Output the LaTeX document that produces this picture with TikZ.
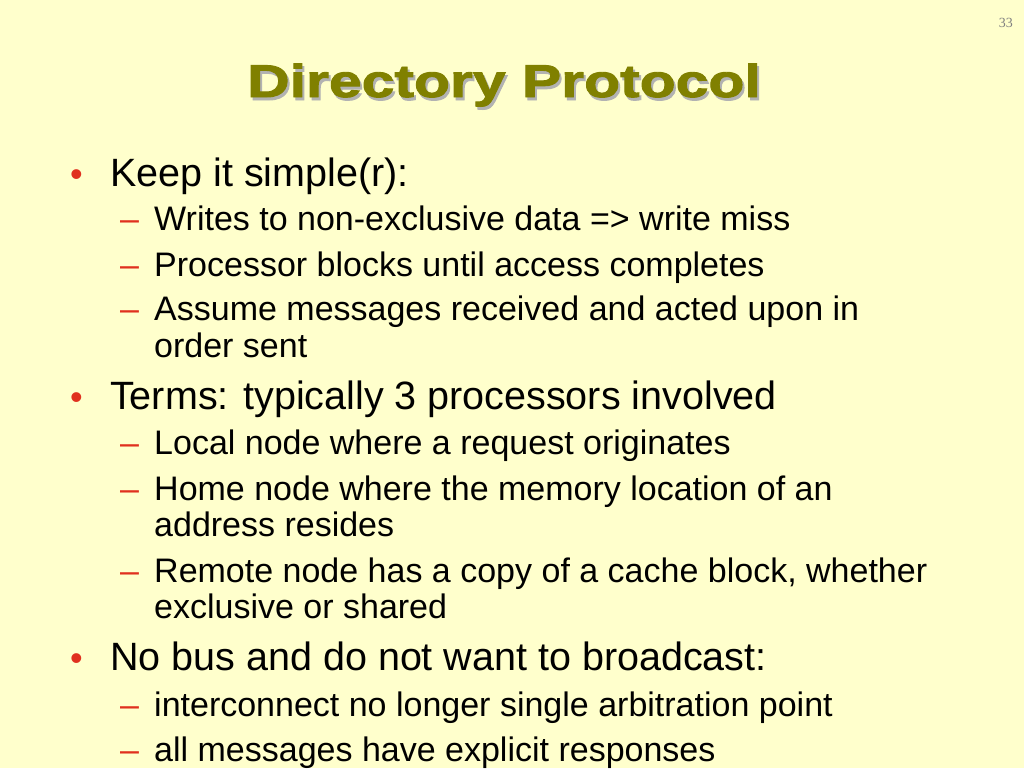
\documentclass[tikz,border=0pt]{standalone}
\usepackage{fontspec}
\setmainfont{Liberation Sans}
\newfontfamily\numfont{Liberation Serif}
\newfontfamily\titlefont[FakeStretch=1.28,FakeBold=2]{Liberation Sans Bold}
\definecolor{bg}{HTML}{FFFFCC}
\definecolor{olive}{HTML}{808000}
\definecolor{bulletred}{HTML}{E0301E}
\begin{document}
\begin{tikzpicture}[x=1pt,y=-1pt,
  lone/.style={anchor=base west,inner sep=0pt,font=\fontsize{39.5}{44}\selectfont},
  ltwo/.style={anchor=base west,inner sep=0pt,font=\fontsize{34}{38}\selectfont},
  bul/.style={anchor=base west,inner sep=0pt,text=bulletred,font=\fontsize{36}{40}\selectfont},
  dsh/.style={anchor=base west,inner sep=0pt,text=bulletred,font=\fontsize{34}{38}\selectfont}]
\fill[bg] (0,0) rectangle (1024,768);
\useasboundingbox (0,0) rectangle (1024,768);
\node[anchor=base east,inner sep=0pt,text=gray,font=\numfont\fontsize{14}{16}\selectfont] (pg) at (1013,28) {33};
\node[anchor=base,inner sep=0pt,text=gray!60,font=\titlefont\fontsize{46}{50}\selectfont] (tsh) at (506,100) {Directory Protocol};
\node[anchor=base,inner sep=0pt,text=olive,font=\titlefont\fontsize{46}{50}\selectfont] (title) at (504,97) {Directory Protocol};
\node[bul] (b1) at (70,186) {•};
\node[lone] (t1) at (110,186) {Keep it simple(r):};
\node[dsh] (d1) at (120,230) {–};
\node[ltwo] (s1) at (154,230) {Writes to non-exclusive data => write miss};
\node[dsh] (d2) at (120,276) {–};
\node[ltwo] (s2) at (154,276) {Processor blocks until access completes};
\node[dsh] (d3) at (120,320) {–};
\node[ltwo] (s3) at (154,320) {Assume messages received and acted upon in};
\node[ltwo] (s3b) at (154,357) {order sent};
\node[bul] (b2) at (70,409) {•};
\node[lone] (t2) at (110,409) {Terms: typically 3 processors involved};
\node[dsh] (d4) at (120,454) {–};
\node[ltwo] (s4) at (154,454) {Local node where a request originates};
\node[dsh] (d5) at (120,500) {–};
\node[ltwo] (s5) at (154,500) {Home node where the memory location of an};
\node[ltwo] (s5b) at (154,536) {address resides};
\node[dsh] (d6) at (120,582) {–};
\node[ltwo] (s6) at (154,582) {Remote node has a copy of a cache block, whether};
\node[ltwo] (s6b) at (154,618) {exclusive or shared};
\node[bul] (b3) at (70,670) {•};
\node[lone] (t3) at (110,670) {No bus and do not want to broadcast:};
\node[dsh] (d7) at (120,716) {–};
\node[ltwo] (s7) at (154,716) {interconnect no longer single arbitration point};
\node[dsh] (d8) at (120,761) {–};
\node[ltwo] (s8) at (154,761) {all messages have explicit responses};
\end{tikzpicture}
\end{document}
